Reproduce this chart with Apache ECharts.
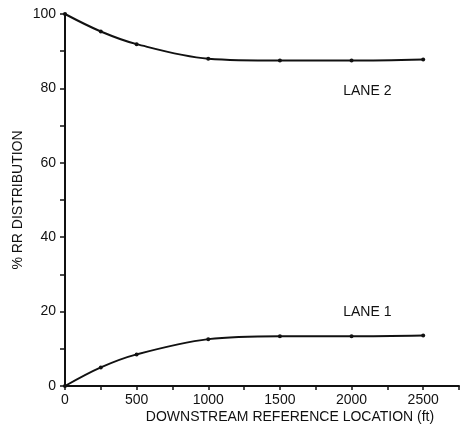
<!DOCTYPE html>
<html>
<head>
<meta charset="utf-8">
<script src="https://cdn.jsdelivr.net/npm/echarts@6/dist/echarts.min.js"></script>
<style>
  html, body { margin: 0; padding: 0; background: #fff; }
  #chart { width: 467px; height: 429px; }
</style>
</head>
<body>
<div id="chart"></div>
<script>
// Downstream reference locations (ft)
const locations = [0, 250, 500, 1000, 1500, 2000, 2500];
// Share of RR traffic in each lane (%)
const lane1 = [0, 5.0, 8.5, 12.6, 13.4, 13.4, 13.6];
const lane2 = [100, 95.3, 91.9, 88.0, 87.5, 87.5, 87.8];
// Lane captions, placed in data units
const laneNames = ['LANE 2', 'LANE 1'];
const laneNamePos = [[2110, 79.3], [2110, 19.9]];

const ink = '#111';
const font = '"Liberation Sans", Arial, sans-serif';

const chart = echarts.init(document.getElementById('chart'));

function pairs(xs, ys) { return xs.map((x, i) => [x, ys[i]]); }

const lineSeries = (name, ys) => ({
  name: name,
  type: 'line',
  data: pairs(locations, ys),
  smooth: 0.35,
  symbol: 'circle',
  symbolSize: 4,
  showSymbol: true,
  lineStyle: { color: ink, width: 2 },
  itemStyle: { color: ink },
  emphasis: { disabled: true },
  animation: false
});

chart.setOption({
  animation: false,
  backgroundColor: '#fff',
  grid: { left: 65, right: 8, top: 14, bottom: 43, containLabel: false },
  xAxis: {
    type: 'value',
    min: 0, max: 2750, interval: 250,
    name: 'DOWNSTREAM REFERENCE LOCATION (ft)',
    nameLocation: 'middle',
    nameGap: 24,
    nameMoveOverlap: false,
    nameTextStyle: { color: ink, fontSize: 14, fontFamily: font, padding: [0, 0, 0, 56] },
    axisLine: { show: true, onZero: false, lineStyle: { color: ink, width: 2 } },
    axisTick: { show: true, length: 4, lineStyle: { color: ink, width: 1.5 } },
    axisLabel: {
      color: ink, fontSize: 14, fontFamily: font, margin: 7,
      formatter: v => (v % 500 === 0 && v <= 2500) ? String(v) : ''
    },
    splitLine: { show: false }
  },
  yAxis: {
    type: 'value',
    min: 0, max: 100, interval: 10,
    name: '% RR DISTRIBUTION',
    nameLocation: 'middle',
    nameGap: 40,
    nameMoveOverlap: false,
    nameRotate: 90,
    nameTextStyle: { color: ink, fontSize: 14, fontFamily: font },
    axisLine: { show: true, lineStyle: { color: ink, width: 2 } },
    axisTick: { show: true, length: 5, lineStyle: { color: ink, width: 1.5 } },
    axisLabel: {
      color: ink, fontSize: 14, fontFamily: font, margin: 9,
      formatter: v => (v % 20 === 0) ? String(v) : ''
    },
    splitLine: { show: false }
  },
  series: [lineSeries('Lane 1', lane1), lineSeries('Lane 2', lane2)]
});

// Lane captions positioned through the axes' own scales
chart.setOption({
  graphic: laneNames.map((t, i) => {
    const p = chart.convertToPixel({ gridIndex: 0 }, laneNamePos[i]);
    return {
      type: 'text',
      x: p[0], y: p[1],
      style: {
        text: t, fill: ink, fontSize: 14, fontFamily: font,
        align: 'center', verticalAlign: 'middle'
      },
      silent: true
    };
  })
});
</script>
</body>
</html>
